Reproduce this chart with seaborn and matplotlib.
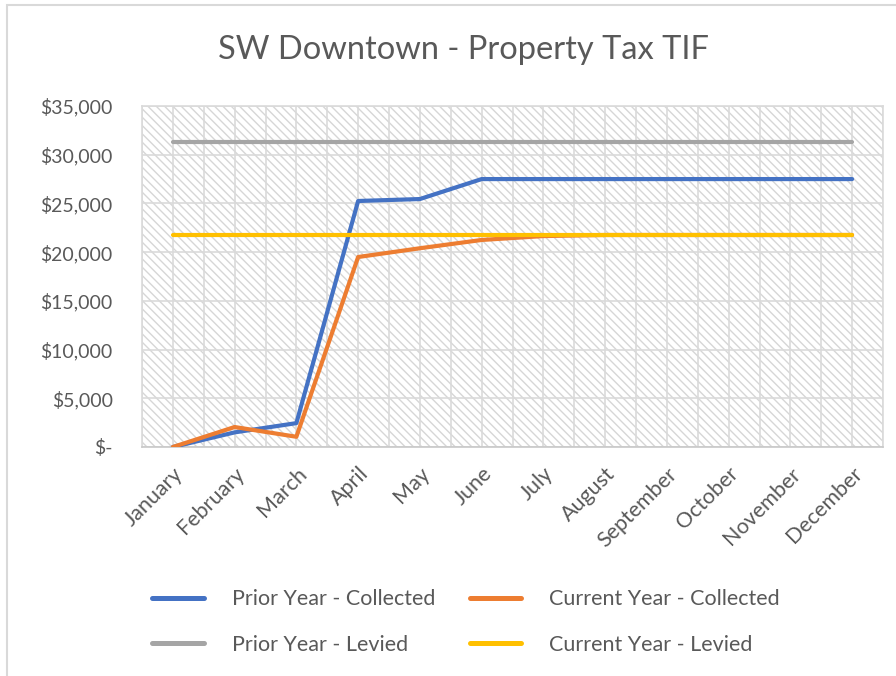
import matplotlib
matplotlib.use("Agg")
import matplotlib.pyplot as plt
import seaborn as sns
import pandas as pd
from matplotlib.patches import Rectangle
from matplotlib.ticker import FuncFormatter

months = ["January", "February", "March", "April", "May", "June", "July",
          "August", "September", "October", "November", "December"]
prior_collected = [0, 1500, 2450, 25250, 25450, 27500, 27500, 27500, 27500, 27500, 27500, 27500]
current_collected = [0, 2050, 1050, 19500, 20400, 21250, 21650, 21760, 21760, 21760, 21760, 21760]
prior_levied = [31300] * 12
current_levied = [21760] * 12

series_names = ["Prior Year - Collected", "Current Year - Collected",
                "Prior Year - Levied", "Current Year - Levied"]
series_values = [prior_collected, current_collected, prior_levied, current_levied]
colors = ["#4472C4", "#ED7D31", "#A5A5A5", "#FFC000"]

rows = []
for name, vals in zip(series_names, series_values):
    for i, (m, v) in enumerate(zip(months, vals)):
        rows.append({"idx": i, "month": m, "value": v, "series": name})
df = pd.DataFrame(rows)

sns.set_theme(style="white")
plt.rcParams["font.family"] = ["Lato", "DejaVu Sans"]
plt.rcParams["hatch.linewidth"] = 1.0

fig = plt.figure(figsize=(8.96, 6.76), dpi=100)
ax = fig.add_axes([142/896, 1-447/676, (883-142)/896, (447-106)/676])

# hatched plot area background
ax.add_patch(Rectangle((0, 0), 1, 1, transform=ax.transAxes, facecolor="white",
                       edgecolor="#D6D6D6", hatch="\\\\\\\\", linewidth=0, zorder=0))

# gridlines
for yv in range(0, 35001, 5000):
    ax.axhline(yv, color="#DADADA", lw=1.2, zorder=1)
for k in range(25):
    ax.axvline(-0.5 + 0.5 * k, color="#DADADA", lw=1.2, zorder=1)

sns.lineplot(data=df, x="idx", y="value", hue="series", hue_order=series_names,
             palette=colors, linewidth=3, ax=ax, zorder=3, legend=False)

ax.set_xlim(-0.5, 11.5)
ax.set_ylim(0, 35000)
ax.set_xticks(range(12))
ax.set_xticklabels(months, rotation=45, ha="right", rotation_mode="anchor",
                   fontsize=15.5, color="#595959")
ax.set_yticks(range(0, 35001, 5000))
ax.yaxis.set_major_formatter(FuncFormatter(lambda v, p: "$-" if v == 0 else f"${v:,.0f}"))
ax.tick_params(axis="y", labelsize=14, labelcolor="#595959", length=0, pad=21)
ax.tick_params(axis="x", length=0, pad=12)
ax.set_xlabel("")
ax.set_ylabel("")
for s in ax.spines.values():
    s.set_color("#DADADA")
    s.set_linewidth(1.2)
ax.spines["bottom"].set_color("#C8C8C8")

fig.text(463/896, 1-50/676, "SW Downtown - Property Tax TIF", ha="center", va="center",
         fontsize=23.5, color="#595959")

handles = [plt.Line2D([], [], color=c, lw=3.6, solid_capstyle="round") for c in colors]
order = [0, 2, 1, 3]
fig.legend([handles[i] for i in order], [series_names[i] for i in order],
           ncol=2, loc="center", bbox_to_anchor=(466/896, 1-622/676), frameon=False,
           fontsize=15.5, labelcolor="#595959", handlelength=2.4, handletextpad=1.3,
           columnspacing=1.6, labelspacing=1.2)

# outer chart border
fig.patches.append(Rectangle((7/896, -0.1), 1.2, 1 - 5/676 + 0.1, transform=fig.transFigure,
                             fill=False, edgecolor="#D9D9D9", lw=1.5))

fig.savefig("out.png", dpi=100)
